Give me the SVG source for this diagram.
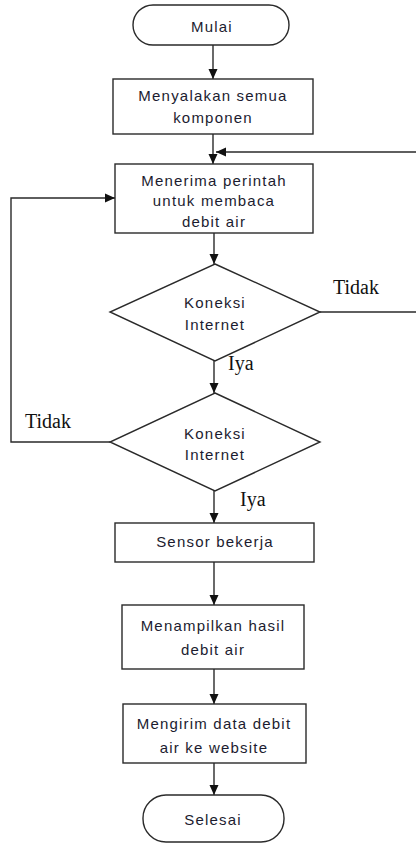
<svg xmlns="http://www.w3.org/2000/svg" width="416" height="844" viewBox="0 0 416 844">
<style>
.n{fill:#fff;stroke:#2a2a2a;stroke-width:1.4}
.t{font-family:"Liberation Sans",Arial,sans-serif;font-size:15px;letter-spacing:1.2px;fill:#1c1c30;text-anchor:middle}
.l{font-family:"Liberation Serif","Times New Roman",serif;font-size:20px;fill:#111}
.c{fill:none;stroke:#2a2a2a;stroke-width:1.4}
</style>
<defs>
<marker id="a" markerUnits="userSpaceOnUse" markerWidth="10" markerHeight="10" refX="10" refY="5" orient="auto">
<path d="M0,0.5 L10,5 L0,9.5 z" fill="#111"/>
</marker>
</defs>
<g id="connectors">
<path class="c" d="M213,45 V79" marker-end="url(#a)"/>
<path class="c" d="M213,134 V164" marker-end="url(#a)"/>
<path class="c" d="M416,152 H216" marker-end="url(#a)"/>
<path class="c" d="M214,233 V264" marker-end="url(#a)"/>
<path class="c" d="M320,312 H416"/>
<path class="c" d="M214,361 V393" marker-end="url(#a)"/>
<path class="c" d="M110,442 H11 V198 H115" marker-end="url(#a)"/>
<path class="c" d="M214,491 V523" marker-end="url(#a)"/>
<path class="c" d="M214,562 V605" marker-end="url(#a)"/>
<path class="c" d="M214,669 V704" marker-end="url(#a)"/>
<path class="c" d="M214,763 V795" marker-end="url(#a)"/>
<text class="l" x="333" y="294">Tidak</text>
<text class="l" x="228" y="370">Iya</text>
<text class="l" x="25" y="428">Tidak</text>
<text class="l" x="240" y="506">Iya</text>
</g>
<g id="mulai">
<rect class="n" x="133" y="5" width="156" height="40" rx="20"/>
<text class="t" x="212" y="32">Mulai</text>
</g>
<g id="menyalakan">
<rect class="n" x="113" y="79" width="200" height="55"/>
<text class="t" x="213" y="101">Menyalakan semua</text>
<text class="t" x="213" y="123">komponen</text>
</g>
<g id="menerima">
<rect class="n" x="115" y="164" width="198" height="69"/>
<text class="t" x="214" y="186">Menerima perintah</text>
<text class="t" x="214" y="206">untuk membaca</text>
<text class="t" x="214" y="227">debit air</text>
</g>
<g id="koneksi1">
<polygon class="n" points="215,264 320,312 215,361 110,312"/>
<text class="t" x="215" y="308">Koneksi</text>
<text class="t" x="215" y="330">Internet</text>
</g>
<g id="koneksi2">
<polygon class="n" points="215,393 320,442 215,491 110,442"/>
<text class="t" x="215" y="439">Koneksi</text>
<text class="t" x="215" y="460">Internet</text>
</g>
<g id="sensor">
<rect class="n" x="115" y="523" width="199" height="39"/>
<text class="t" x="215" y="547">Sensor bekerja</text>
</g>
<g id="menampilkan">
<rect class="n" x="122" y="605" width="182" height="64"/>
<text class="t" x="213" y="631">Menampilkan hasil</text>
<text class="t" x="213" y="655">debit air</text>
</g>
<g id="mengirim">
<rect class="n" x="123" y="704" width="183" height="59"/>
<text class="t" x="214" y="729">Mengirim data debit</text>
<text class="t" x="214" y="753">air ke website</text>
</g>
<g id="selesai">
<rect class="n" x="143" y="795" width="141" height="47" rx="23"/>
<text class="t" x="213" y="825">Selesai</text>
</g>
</svg>
